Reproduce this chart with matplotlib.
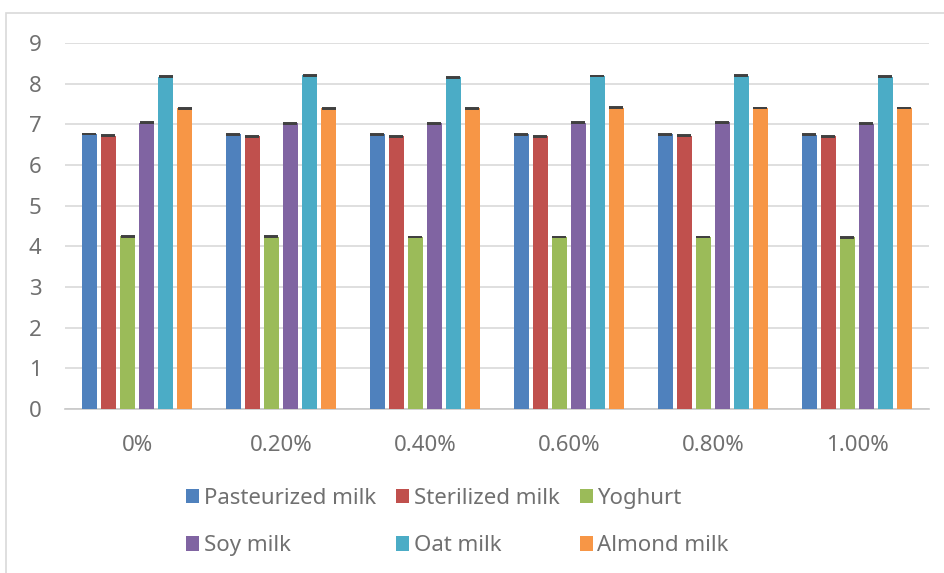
import numpy as np
import matplotlib.pyplot as plt
from matplotlib.patches import Rectangle

plt.rcParams['font.family'] = ['Noto Sans', 'DejaVu Sans']

concentrations = ['0%', '0.20%', '0.40%', '0.60%', '0.80%', '1.00%']
series_names = ['Pasteurized milk', 'Sterilized milk', 'Yoghurt',
                'Soy milk', 'Oat milk', 'Almond milk']

pasteurized = [6.76, 6.75, 6.75, 6.75, 6.75, 6.74]
sterilized = [6.72, 6.71, 6.71, 6.71, 6.72, 6.71]
yoghurt = [4.25, 4.24, 4.23, 4.23, 4.23, 4.22]
soy = [7.04, 7.03, 7.03, 7.04, 7.05, 7.02]
oat = [8.17, 8.21, 8.16, 8.19, 8.20, 8.17]
almond = [7.39, 7.39, 7.39, 7.41, 7.40, 7.40]
errors = [0.01, 0.01, 0.01, 0.01, 0.01, 0.01]

colors = ['#4F81BD', '#C0504D', '#9BBB59', '#8064A2', '#4BACC6', '#F79646']
values = [pasteurized, sterilized, yoghurt, soy, oat, almond]
text_color = '#707070'

fig = plt.figure(figsize=(9.45, 5.73), dpi=100)
ax = fig.add_axes([0.0688, 0.2862, 0.9142, 0.6388])

# light outer frame of the chart area
fig.patches.append(Rectangle((6 / 945, -0.1), 1.2, (573 - 13) / 573 + 0.1,
                             transform=fig.transFigure, fill=False,
                             edgecolor='#d9d9d9', linewidth=1.2))

x = np.arange(len(concentrations))
pitch = 0.132
width = 0.104
handles = []
for i, (name, vals, c) in enumerate(zip(series_names, values, colors)):
    pos = x + (i - 2.5) * pitch
    b = ax.bar(pos, vals, width, color=c, label=name, zorder=3)
    ax.errorbar(pos, vals, yerr=errors, fmt='none', ecolor='#404040',
                elinewidth=1, capsize=5.2, capthick=1.4, zorder=4)
    handles.append(b)

ax.set_xlim(-0.5, 5.5)
ax.set_ylim(0, 9)
ax.set_yticks(range(10))
ax.set_xticks(x)
ax.set_xticklabels(concentrations)
ax.tick_params(length=0, labelsize=16, colors=text_color)
ax.tick_params(axis='x', pad=19)
ax.tick_params(axis='y', pad=17)
ax.grid(axis='y', color='#d9d9d9', linewidth=1.2, zorder=0)
for side in ['top', 'right', 'left']:
    ax.spines[side].set_visible(False)
ax.spines['bottom'].set_color('#c8c8c8')
ax.spines['bottom'].set_linewidth(1.2)

# rows: Pasteurized/Sterilized/Yoghurt then Soy/Oat/Almond
order = [0, 3, 1, 4, 2, 5]
leg = fig.legend([handles[k] for k in order], [series_names[k] for k in order],
                 ncol=3, loc='center left', bbox_to_anchor=(186 / 945, 0.089),
                 frameon=False, fontsize=16, handlelength=0.6,
                 handleheight=0.6, handletextpad=0.2, columnspacing=0.9,
                 labelspacing=1.2, borderpad=0, borderaxespad=0,
                 labelcolor=text_color)

fig.savefig('out.png', dpi=100)
